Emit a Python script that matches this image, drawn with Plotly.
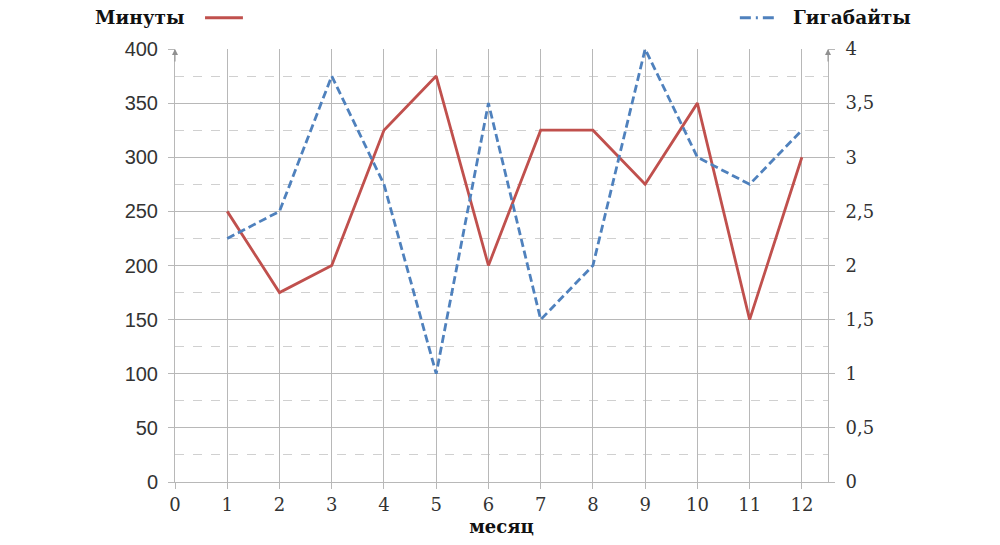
import plotly.graph_objects as go

months = list(range(1, 13))
minutes = [250, 175, 200, 325, 375, 200, 325, 325, 275, 350, 150, 300]
gigabytes = [2.25, 2.5, 3.75, 2.75, 1.0, 3.5, 1.5, 2.0, 4.0, 3.0, 2.75, 3.25]

RED = "#C0504D"
BLUE = "#4F81BD"
GRID = "#B8B8B8"
FONT = "DejaVu Serif"
DASH = "8px,4px"
DASHDOT = "11px,5px,2px,5px"

fig = go.Figure()
fig.add_trace(go.Scatter(x=months, y=minutes, mode="lines", name="Минуты",
                         line=dict(color=RED, width=2.8), yaxis="y"))
fig.add_trace(go.Scatter(x=months, y=gigabytes, mode="lines", name="Гигабайты",
                         line=dict(color=BLUE, width=2.8, dash=DASH), yaxis="y2"))

fig.update_layout(
    width=1000, height=545,
    margin=dict(l=167, r=180, t=41, b=71),
    paper_bgcolor="white", plot_bgcolor="white",
    showlegend=False,
    separators=", ",
    font=dict(family=FONT, size=18, color="#333333"),
    xaxis=dict(range=[0, 12.5], tickmode="array", tickvals=list(range(0, 13)),
               showgrid=True, gridcolor=GRID, gridwidth=1,
               ticks="outside", ticklen=6, tickcolor=GRID,
               showline=True, linecolor=GRID, linewidth=1,
               zeroline=False,
               tickfont=dict(family=FONT, size=18, color="#333333"),
               title=dict(text="<b>месяц</b>", font=dict(family=FONT, size=18, color="#111111"),
                          standoff=6)),
    yaxis=dict(range=[0, 400], tickmode="array", tickvals=list(range(0, 401, 50)),
               showgrid=True, gridcolor=GRID, gridwidth=1,
               ticks="outside", ticklen=6, tickcolor=GRID, ticklabelstandoff=6,
               showline=True, linecolor=GRID, linewidth=1, zeroline=False,
               tickfont=dict(family="Liberation Sans", size=20, color="#333333"),
               minor=dict(dtick=25, showgrid=True, gridcolor="#D0D0D0", griddash="dash", ticks=""),
               ),
    yaxis2=dict(range=[0, 4], overlaying="y", side="right", tickmode="array",
                tickvals=[0, 0.5, 1, 1.5, 2, 2.5, 3, 3.5, 4],
                showgrid=False, ticks="outside", ticklen=6, tickcolor=GRID, ticklabelstandoff=7,
                showline=True, linecolor=GRID, linewidth=1, zeroline=False,
                tickfont=dict(family=FONT, size=18, color="#333333")),
)

# axis arrows
for xp in [0, 1]:
    fig.add_annotation(x=xp, y=1.0, xref="paper", yref="paper", ax=0, ay=14,
                       showarrow=True, arrowhead=2, arrowsize=1.2, arrowwidth=1,
                       arrowcolor="#909090", text="")

# legend-like labels
fig.add_annotation(x=-0.0536, y=1.072, xref="paper", yref="paper", showarrow=False,
                   xanchor="center", yanchor="middle",
                   text="<b>Минуты</b>", font=dict(family=FONT, size=18.5, color="#111111"))
fig.add_shape(type="line", xref="paper", yref="paper", x0=0.046, x1=0.104, y0=1.072, y1=1.072,
              line=dict(color=RED, width=3))
fig.add_annotation(x=1.037, y=1.072, xref="paper", yref="paper", showarrow=False,
                   xanchor="center", yanchor="middle",
                   text="<b>Гигабайты</b>", font=dict(family=FONT, size=18.5, color="#111111"))
fig.add_shape(type="line", xref="paper", yref="paper", x0=0.865, x1=0.917, y0=1.072, y1=1.072,
              line=dict(color=BLUE, width=3, dash=DASHDOT))

fig.write_html("out.html")
